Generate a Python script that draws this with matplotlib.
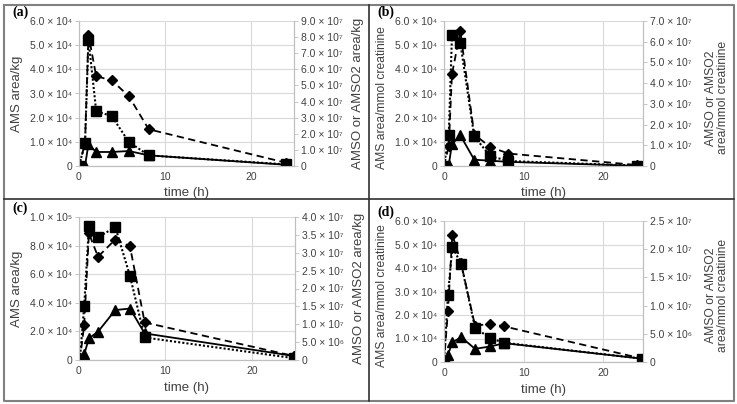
import numpy as np
import matplotlib
matplotlib.use("Agg")
import matplotlib.pyplot as plt
from matplotlib.ticker import FuncFormatter, MultipleLocator
from matplotlib.lines import Line2D

plt.rcParams['font.family'] = ['Liberation Sans', 'DejaVu Sans']

# ---- data ----
# (a) AMS area/kg (left), AMSO / AMSO2 area/kg (right)
t_a = [0, 0.7, 1.1, 2.0, 3.8, 5.8, 8.1, 24.1]
ams_a = [0, 100, 9000, 5800, 5800, 6200, 4400, 500]
amso_a = [0, 1.4e7, 8.16e7, 5.57e7, 5.32e7, 4.33e7, 2.28e7, 0.2e7]
amso2_a = [0, 1.4e7, 7.85e7, 3.4e7, 3.1e7, 1.49e7, 0.66e7, 0.1e7]

# (b) per mmol creatinine
t_b = [0, 0.6, 1.0, 2.05, 3.8, 5.8, 8.1, 24.2]
ams_b = [0, 500, 9000, 12700, 2600, 2200, 1700, 100]
amso_b = [0, 0.97e7, 4.43e7, 6.5e7, 1.52e7, 0.92e7, 0.6e7, 0.05e7]
amso2_b = [0, 1.52e7, 6.31e7, 5.94e7, 1.43e7, 0.48e7, 0.24e7, 0.02e7]

# (c) per kg
t_c = [0.1, 0.6, 1.15, 2.2, 4.2, 5.9, 7.6, 24.9]
ams_c = [0, 4000, 15100, 19800, 34900, 36000, 18600, 2800]
amso_c = [0, 0.98e7, 3.54e7, 2.89e7, 3.37e7, 3.18e7, 1.05e7, 0.11e7]
amso2_c = [0, 1.51e7, 3.74e7, 3.43e7, 3.72e7, 2.35e7, 0.63e7, 0.05e7]

# (d) per mmol creatinine
t_d = [0, 0.5, 1.05, 2.15, 3.9, 5.8, 7.6, 24.9]
ams_d = [0, 3100, 8300, 10600, 5600, 6600, 8000, 1400]
amso_d = [0, 0.91e7, 2.26e7, 1.75e7, 0.64e7, 0.68e7, 0.63e7, 0.06e7]
amso2_d = [0, 1.19e7, 2.04e7, 1.74e7, 0.61e7, 0.42e7, 0.34e7, 0.06e7]

SUP = str.maketrans("0123456789", "⁰¹²³⁴⁵⁶⁷⁸⁹")


def sci(v, pos=None):
    if abs(v) < 1e-9:
        return "0"
    e = int(np.floor(np.log10(abs(v)) + 1e-9))
    m = v / 10 ** e
    return f"{m:.1f} × 10" + str(e).translate(SUP)


W, H = 737, 404
fig = plt.figure(figsize=(W / 100, H / 100), dpi=100)

grey = "#404040"
spine_c = "#bfbfbf"


def panel(box, label, t, ams, amso, amso2, lmax, lstep, rmax, rstep,
          ylab, rlab, lpos, rpos, xlab_y, lab_fs, lab_yc):
    x0, y0, x1, y1 = box
    ax = fig.add_axes([x0 / W, 1 - y1 / H, (x1 - x0) / W, (y1 - y0) / H])
    ax2 = ax.twinx()
    ax.set_xlim(0, 25)
    ax.set_ylim(0, lmax)
    ax2.set_ylim(0, rmax)
    ax.xaxis.set_major_locator(MultipleLocator(10))
    ax.yaxis.set_major_locator(MultipleLocator(lstep))
    ax2.yaxis.set_major_locator(MultipleLocator(rstep))
    ax.yaxis.set_major_formatter(FuncFormatter(sci))
    ax2.yaxis.set_major_formatter(FuncFormatter(sci))
    ax.grid(True, color="#d9d9d9", lw=0.8)
    ax.set_axisbelow(True)
    for a in (ax, ax2):
        a.spines['top'].set_visible(False)
        for s in ('left', 'right', 'bottom'):
            a.spines[s].set_color(spine_c)
            a.spines[s].set_linewidth(0.8)
        a.tick_params(labelsize=7.5, colors=grey, length=3, width=0.6,
                      color=spine_c, pad=2)
    ax.tick_params(axis='x', length=0, pad=4)

    ax.plot(t, ams, color="black", lw=1.3, marker="^", ms=7, zorder=3)
    ax2.plot(t, amso, color="black", lw=1.3, ls=(0, (4, 2.5)), marker="D",
             ms=5.5)
    ax2.plot(t, amso2, color="black", lw=1.5, ls=(0, (1, 1)), marker="s",
             ms=6.5)

    ax.set_ylabel(ylab, fontsize=lab_fs, color=grey)
    ax.yaxis.set_label_coords(lpos, lab_yc)
    ax2.set_ylabel(rlab, fontsize=lab_fs, color=grey, rotation=90,
                   linespacing=1.05)
    ax2.yaxis.set_label_coords(rpos, lab_yc)
    ax.set_xlabel("time (h)", fontsize=9.5, color=grey)
    ax.xaxis.set_label_coords(0.5, xlab_y)
    fig.text((x0 - 67) / W, 1 - (y0 - 9) / H, label, fontsize=10,
             fontweight="bold", family="Liberation Serif", va="center")
    return ax, ax2


panel((79, 21, 294, 166), "(a)", t_a, ams_a, amso_a, amso2_a,
      6e4, 1e4, 9e7, 1e7, "AMS area/kg", "AMSO or AMSO2 area/kg",
      -0.26, 1.27, -0.145, 9.5, 0.5)
panel((444, 21, 643, 166), "(b)", t_b, ams_b, amso_b, amso2_b,
      6e4, 1e4, 7e7, 1e7, "AMS area/mmol creatinine",
      "AMSO or AMSO2\narea/mmol creatinine", -0.28, 1.31, -0.145, 8.7, 0.47)
panel((79, 217, 295, 360), "(c)", t_c, ams_c, amso_c, amso2_c,
      1e5, 2e4, 4e7, 5e6, "AMS area/kg", "AMSO or AMSO2 area/kg",
      -0.26, 1.27, -0.155, 9.5, 0.5)
panel((444, 221, 643, 362), "(d)", t_d, ams_d, amso_d, amso2_d,
      6e4, 1e4, 2.5e7, 5e6, "AMS area/mmol creatinine",
      "AMSO or AMSO2\narea/mmol creatinine", -0.28, 1.31, -0.155, 8.7, 0.47)

# frame around the panels
def fline(xs, ys, c, lw):
    fig.add_artist(Line2D([x / W for x in xs], [1 - y / H for y in ys],
                          color=c, lw=lw, transform=fig.transFigure))

fline([4, 734, 734, 4, 4], [4.5, 4.5, 401, 401, 4.5], "#808080", 1.5)
fline([369, 369], [4.5, 401], "#303030", 1.2)
fline([4, 734], [199, 199], "#303030", 1.2)

fig.savefig("out.png", dpi=100)
